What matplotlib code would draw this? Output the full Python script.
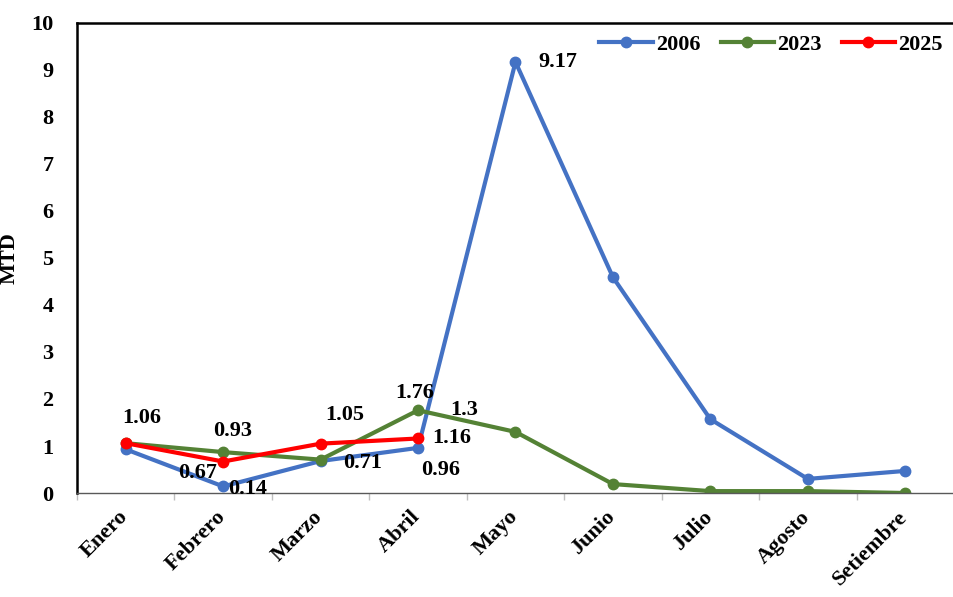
import matplotlib
matplotlib.use("Agg")
import matplotlib.pyplot as plt
import matplotlib.transforms as mtransforms
import numpy as np

meses = ["Enero", "Febrero", "Marzo", "Abril", "Mayo", "Junio", "Julio", "Agosto", "Setiembre"]
y2006 = [0.93, 0.14, 0.68, 0.96, 9.17, 4.59, 1.57, 0.30, 0.47]
y2023 = [1.06, 0.87, 0.71, 1.76, 1.30, 0.19, 0.04, 0.04, 0.0]
y2025 = [1.06, 0.67, 1.05, 1.16]

# data labels: (series, month index, text, offset in pixels)
etiquetas = [
    ("2025", 0, "1.06", (16, 25)),
    ("2023", 1, "0.93", (9, 21)),
    ("2025", 1, "0.67", (-26, -11)),
    ("2006", 1, "0.14", (24, -3)),
    ("2025", 2, "1.05", (24, 29)),
    ("2023", 2, "0.71", (42, -3)),
    ("2023", 3, "1.76", (-3, 17)),
    ("2025", 3, "1.16", (34, 0)),
    ("2006", 3, "0.96", (23, -22)),
    ("2006", 4, "9.17", (42, 0)),
    ("2023", 4, "1.3", (-51, 22)),
]

plt.rcParams['font.family'] = ['Liberation Serif', 'DejaVu Serif']
plt.rcParams['font.weight'] = 'bold'
FS = 16

series = {"2006": (y2006, "#4472C4"), "2023": (y2023, "#548235"), "2025": (y2025, "#FF0000")}

fig = plt.figure(figsize=(9.54, 5.97), dpi=100)
ax = fig.add_axes([0.0807, 0.1742, 0.9193, 0.7873])

x = np.arange(len(meses))
for nombre, (vals, col) in series.items():
    ax.plot(x[:len(vals)], vals, color=col, lw=3, marker="o", ms=7.5, label=nombre)

for nombre, i, txt, (dx, dy) in etiquetas:
    v = series[nombre][0][i]
    ax.annotate(txt, (i, v), xytext=(dx, dy), textcoords="offset pixels",
                ha="center", va="center", fontsize=FS, fontweight="bold")

ax.set_xlim(-0.5, len(meses) - 0.5)
ax.set_ylim(0, 10)
ax.set_yticks(range(0, 11))
ax.set_xticks(x)
ax.set_xticklabels(meses, rotation=45, ha="right", rotation_mode="anchor", fontsize=FS, fontweight="bold")
ax.tick_params(axis="x", length=0, pad=10)
shift = mtransforms.ScaledTranslation(-8 / 100, 0, fig.dpi_scale_trans)
for lab in ax.get_xticklabels():
    lab.set_transform(lab.get_transform() + shift)
ax.set_xticks(np.arange(-0.5, len(meses), 1), minor=True)
ax.tick_params(axis="x", which="minor", length=5, color="#BFBFBF", width=1)
ax.tick_params(axis="y", length=0, labelsize=FS, pad=17)
for lab in ax.get_yticklabels():
    lab.set_fontweight("bold")
ax.set_ylabel("MTD", fontsize=FS, fontweight="bold", labelpad=8)

ax.spines["right"].set_visible(False)
ax.spines["left"].set_linewidth(1.8)
ax.spines["top"].set_linewidth(1.8)
ax.spines["bottom"].set_color("#595959")
ax.spines["bottom"].set_linewidth(1)

ax.legend(loc="upper right", ncol=3, frameon=False, handlelength=2.4,
          columnspacing=0.9, handletextpad=0.15, borderaxespad=0.1,
          prop={"weight": "bold", "size": FS})

fig.savefig("out.png", dpi=100)
